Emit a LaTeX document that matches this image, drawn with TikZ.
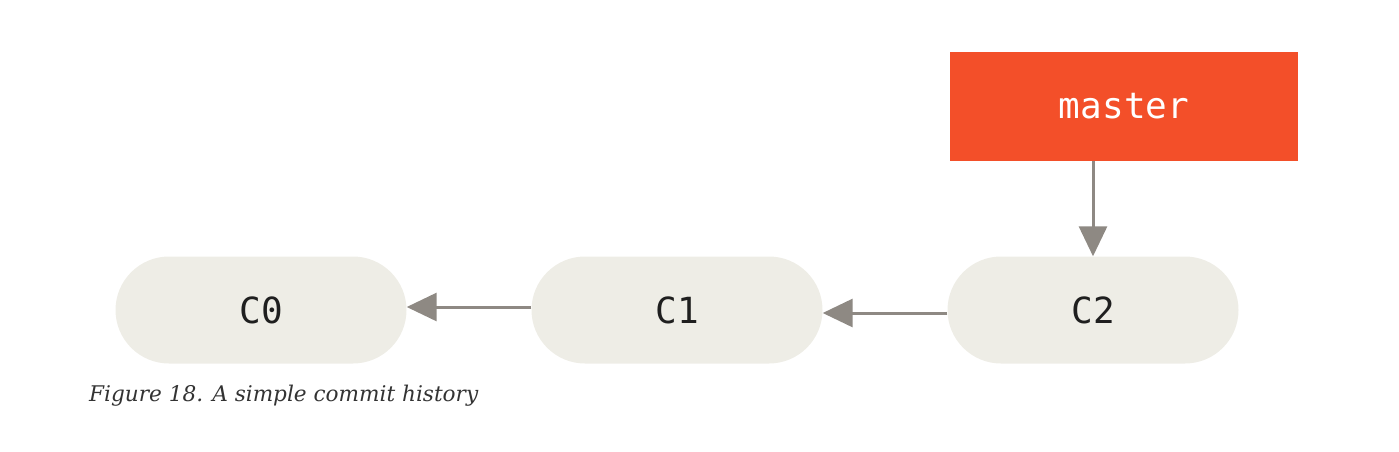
\documentclass[tikz,border=0pt]{standalone}
\usepackage{fontspec}
\setmonofont{DejaVu Sans Mono}
\newfontfamily\capfont{DejaVu Serif}
\usetikzlibrary{arrows.meta,shapes.misc}
\definecolor{gitred}{HTML}{F34F29}
\definecolor{pillfill}{HTML}{EEEDE6}
\definecolor{arrowgray}{HTML}{8E8983}
\definecolor{captext}{HTML}{333333}
\tikzset{
  commit/.style={rounded rectangle, fill=pillfill, minimum width=291pt, minimum height=107pt, inner sep=0pt, font=\ttfamily\fontsize{36}{40}\selectfont, text=black!88},
  branch/.style={rectangle, fill=gitred, minimum width=348pt, minimum height=109pt, inner sep=0pt, font=\ttfamily\fontsize{36}{40}\selectfont, text=white},
  link/.style={draw=arrowgray, line width=3pt, -{Triangle[length=30pt, width=28pt]}, arrowgray}
}
\begin{document}
\begin{tikzpicture}[x=1pt, y=-1pt]
\useasboundingbox (0,0) rectangle (1399,451);
\node[commit] (c0) at (261,310) {C0};
\node[commit] (c1) at (677,310) {C1};
\node[commit] (c2) at (1093,310) {C2};
\node[branch] (master) at (1124,106) {master};
\draw[link] ([yshift=3pt]c1.west) -- ([yshift=3pt]c0.east);
\draw[link] ([yshift=-3pt]c2.west) -- ([yshift=-3pt]c1.east);
\draw[link] (master.south -| c2.north) -- (c2.north);
\node[anchor=base west, inner sep=0pt, text=captext, font=\capfont\itshape\fontsize{21.6}{24}\selectfont] (cap) at (89,401) {Figure 18. A simple commit history};
\end{tikzpicture}
\end{document}
